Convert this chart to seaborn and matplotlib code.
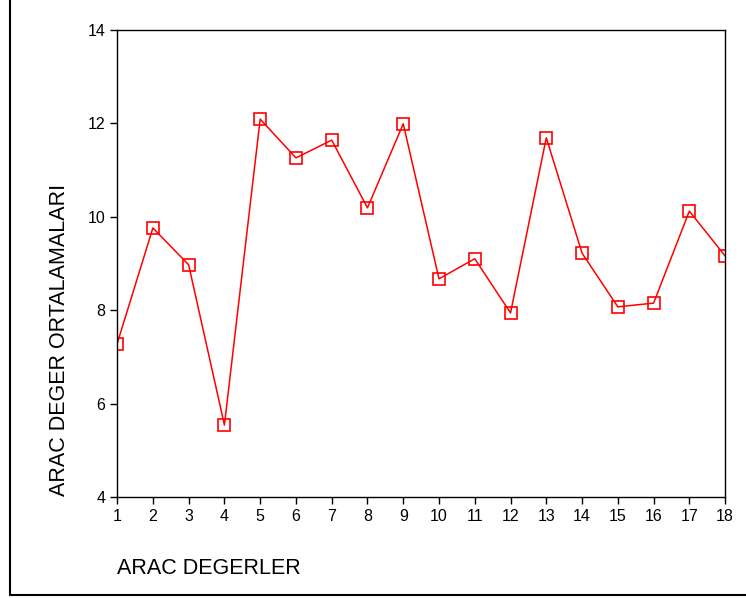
import numpy as np
import pandas as pd
import matplotlib
matplotlib.use('Agg')
import matplotlib.pyplot as plt
import seaborn as sns
from matplotlib.lines import Line2D

# datos
arac = list(range(1, 19))
ortalama = [7.28, 9.76, 8.97, 5.54, 12.09, 11.26, 11.64, 10.19, 11.99,
            8.67, 9.10, 7.94, 11.69, 9.22, 8.07, 8.15, 10.12, 9.16]
y_ticks = [4, 6, 8, 10, 12, 14]

sns.set_style('white')
plt.rcParams['font.family'] = ['Liberation Sans', 'DejaVu Sans']
plt.rcParams['text.color'] = 'black'

datos = pd.DataFrame({'arac': arac, 'ortalama': ortalama})

fig = plt.figure(figsize=(7.46, 5.98), dpi=100)
ax = fig.add_axes([0.157, 0.169, 0.815, 0.781])

sns.lineplot(data=datos, x='arac', y='ortalama', ax=ax, color='red',
             linewidth=1.1, marker='s', markersize=8, markerfacecolor='none',
             markeredgecolor='red', markeredgewidth=1.2)

ax.set_xlim(1, 18)
ax.set_ylim(4, 14)
ax.set_xticks(arac)
ax.set_yticks(y_ticks)
ax.tick_params(axis='both', direction='out', length=5, width=1, colors='black',
               labelsize=11.5, bottom=True, left=True)
for s in ax.spines.values():
    s.set_visible(True)
    s.set_color('black')
    s.set_linewidth(1)

ax.set_xlabel('')
ax.set_ylabel('')
# etiquetas de ejes puestas a mano
fig.text(60 / 746, 1 - 340 / 598, 'ARAC DEGER ORTALAMALARI', fontsize=15.5,
         rotation=90, ha='center', va='center', color='black')
fig.text(117 / 746, 1 - 568 / 598, 'ARAC DEGERLER', fontsize=15.5,
         ha='left', va='center', color='black')

# marco exterior (solo izquierda y abajo)
fig.add_artist(Line2D([10 / 746, 10 / 746], [1 - 595 / 598, 1.0],
                      transform=fig.transFigure, color='black', linewidth=1.5))
fig.add_artist(Line2D([10 / 746, 1.0], [1 - 595 / 598, 1 - 595 / 598],
                      transform=fig.transFigure, color='black', linewidth=1.5))

fig.savefig('out.png', dpi=100)
